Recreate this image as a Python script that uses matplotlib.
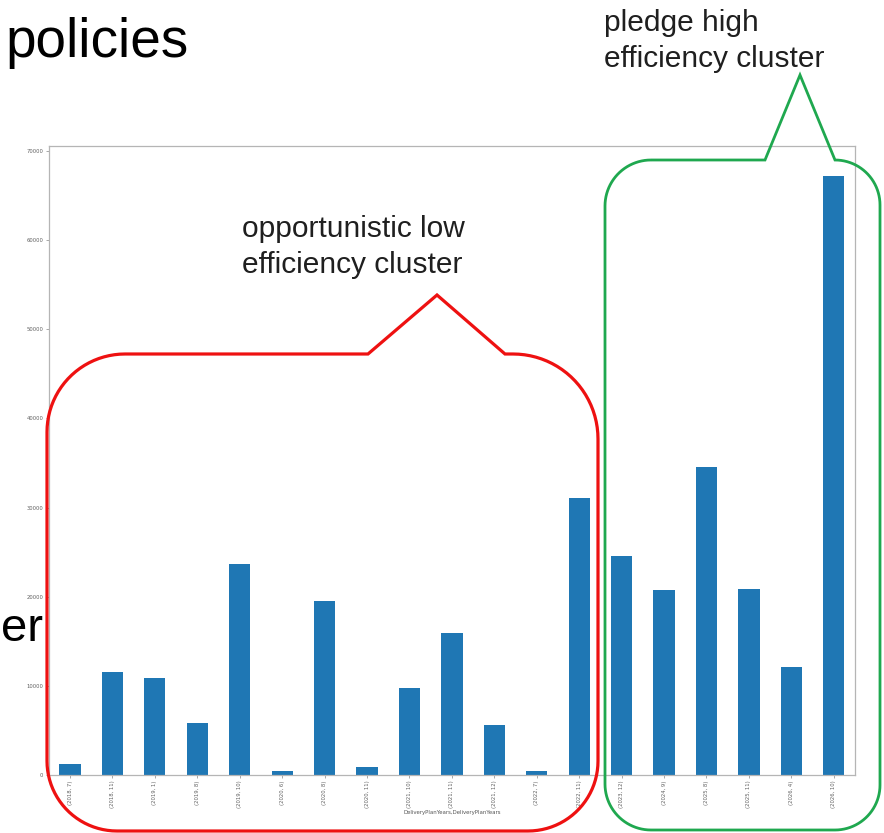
import numpy as np
import matplotlib
matplotlib.use("Agg")
import matplotlib.pyplot as plt
from matplotlib.path import Path
from matplotlib.patches import PathPatch

# ---- data ----
categories = ["(2018, 7)", "(2018, 11)", "(2019, 1)", "(2019, 8)", "(2019, 10)",
              "(2020, 6)", "(2020, 8)", "(2020, 11)", "(2021, 10)", "(2021, 11)",
              "(2021, 12)", "(2022, 7)", "(2022, 11)", "(2023, 12)", "(2024, 9)",
              "(2025, 8)", "(2025, 11)", "(2026, 4)", "(2026, 10)"]
values = [1230, 11550, 10900, 5800, 23650, 450, 19550, 900, 9800, 15900,
          5600, 450, 31100, 24600, 20750, 34550, 20900, 12100, 67200]
x_label = "DeliveryPlanYears,DeliveryPlanYears"

W, H = 884, 833
fig = plt.figure(figsize=(W / 100, H / 100), dpi=100)
fig.patch.set_facecolor("white")

# ---- bar chart ----
ax = fig.add_axes([48.8 / W, 58 / H, 806.2 / W, 629 / H])
x = np.arange(len(values))
ax.bar(x, values, width=0.5, color="#1f77b4", zorder=2)
ax.set_xlim(-0.5, len(values) - 0.5)
ax.set_ylim(0, max(values) * 1.05)
ax.set_yticks(np.arange(0, 70001, 10000))
ax.set_xticks(x)
ax.set_xticklabels(categories, rotation=90)
ax.tick_params(axis="both", labelsize=3.8, labelcolor="#606060", color="#999999",
               length=2.5, width=0.6, pad=1.5)
ax.set_xlabel(x_label, fontsize=3.9, color="#555555", labelpad=1)
for sp in ax.spines.values():
    sp.set_color("#b5b5b5")
    sp.set_linewidth(0.9)

# ---- slide overlay ----
ov = fig.add_axes([0, 0, 1, 1], zorder=5)
ov.set_xlim(0, W)
ov.set_ylim(H, 0)
ov.axis("off")
ov.patch.set_alpha(0)


def arc(cx, cy, r, a0, a1, n=24):
    t = np.radians(np.linspace(a0, a1, n))
    return list(zip(cx + r * np.cos(t), cy + r * np.sin(t)))


def callout(x0, y0, x1, y1, rtl, rtr, rbr, rbl, notch):
    xa, xp, yp, xb = notch
    pts = [(x0 + rtl, y0), (xa, y0), (xp, yp), (xb, y0), (x1 - rtr, y0)]
    pts += arc(x1 - rtr, y0 + rtr, rtr, 270, 360)
    pts += [(x1, y1 - rbr)]
    pts += arc(x1 - rbr, y1 - rbr, rbr, 0, 90)
    pts += [(x0 + rbl, y1)]
    pts += arc(x0 + rbl, y1 - rbl, rbl, 90, 180)
    pts += [(x0, y0 + rtl)]
    pts += arc(x0 + rtl, y0 + rtl, rtl, 180, 270)
    pts.append(pts[0])
    return Path(pts)


red_path = callout(47, 354, 598, 831, 78, 85, 70, 70, (368, 437, 295, 505))
green_path = callout(605, 160, 880, 830, 46, 45, 45, 46, (765, 800, 75, 835))
ov.add_patch(PathPatch(red_path, fill=False, edgecolor="#ee1111", lw=2.3,
                       joinstyle="miter"))
ov.add_patch(PathPatch(green_path, fill=False, edgecolor="#1fa84f", lw=2.0,
                       joinstyle="miter"))

font = "Liberation Sans"
txt = "#1f1f1f"
ov.text(5, 57, "policies", fontsize=39.5, family=font, color="black", va="baseline")
ov.text(1, 641, "er", fontsize=34, family=font, color="black", va="baseline", ha="left")
ov.text(242, 237, "opportunistic low", fontsize=21.5, family=font, color=txt, va="baseline")
ov.text(242, 273, "efficiency cluster", fontsize=21.5, family=font, color=txt, va="baseline")
ov.text(604, 31, "pledge high", fontsize=21.5, family=font, color=txt, va="baseline")
ov.text(604, 67, "efficiency cluster", fontsize=21.5, family=font, color=txt, va="baseline")

fig.savefig("out.png", dpi=100)
